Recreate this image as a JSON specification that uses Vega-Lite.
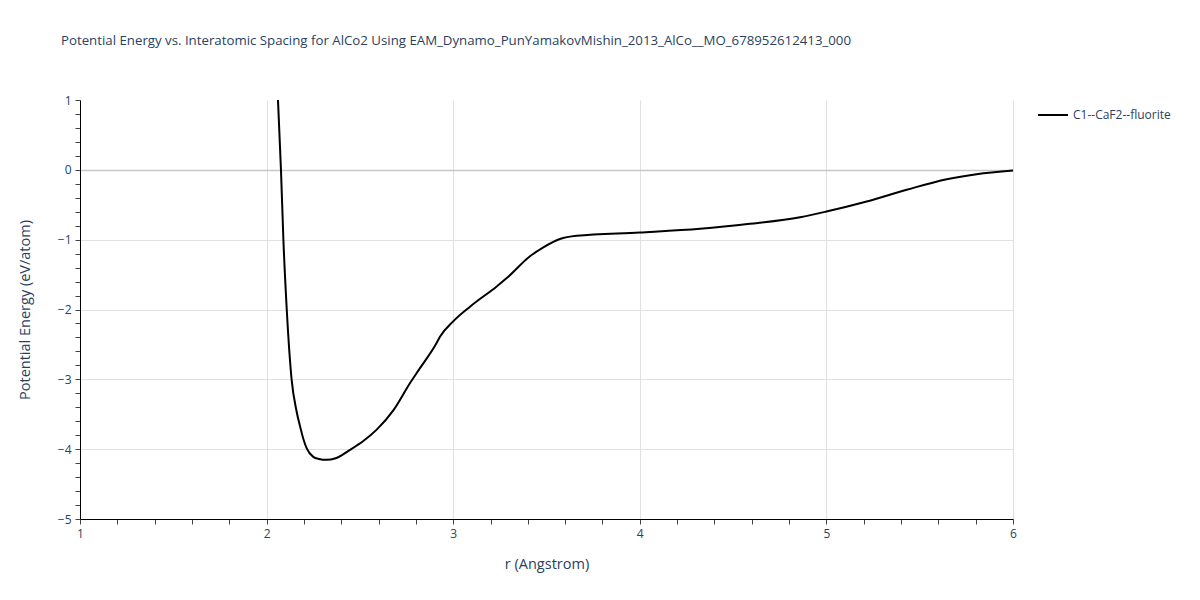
{
  "$schema": "https://vega.github.io/schema/vega-lite/v6.json",
  "width": 933,
  "height": 419,
  "autosize": {"type": "none"},
  "padding": {"left": 80, "top": 100, "right": 187, "bottom": 81},
  "background": "white",
  "config": {
    "font": "Open Sans",
    "view": {"stroke": null},
    "axis": {"labelFont": "Open Sans", "titleFont": "Open Sans"}
  },
  "title": {
    "text": "Potential Energy vs. Interatomic Spacing for AlCo2 Using EAM_Dynamo_PunYamakovMishin_2013_AlCo__MO_678952612413_000",
    "anchor": "start",
    "frame": "group",
    "dx": -19,
    "offset": 46,
    "fontSize": 13.25,
    "fontWeight": "normal",
    "color": "#2a3f5f",
    "font": "Open Sans"
  },
  "data": {
    "values": [
      {"r": 2.061, "E": 1.0, "s": "C1--CaF2--fluorite"},
      {"r": 2.077, "E": 0.0, "s": "C1--CaF2--fluorite"},
      {"r": 2.09, "E": -1.0, "s": "C1--CaF2--fluorite"},
      {"r": 2.108, "E": -2.0, "s": "C1--CaF2--fluorite"},
      {"r": 2.134, "E": -3.0, "s": "C1--CaF2--fluorite"},
      {"r": 2.16, "E": -3.45, "s": "C1--CaF2--fluorite"},
      {"r": 2.179, "E": -3.67, "s": "C1--CaF2--fluorite"},
      {"r": 2.2, "E": -3.88, "s": "C1--CaF2--fluorite"},
      {"r": 2.215, "E": -3.99, "s": "C1--CaF2--fluorite"},
      {"r": 2.25, "E": -4.11, "s": "C1--CaF2--fluorite"},
      {"r": 2.28, "E": -4.14, "s": "C1--CaF2--fluorite"},
      {"r": 2.322, "E": -4.153, "s": "C1--CaF2--fluorite"},
      {"r": 2.37, "E": -4.13, "s": "C1--CaF2--fluorite"},
      {"r": 2.447, "E": -4.01, "s": "C1--CaF2--fluorite"},
      {"r": 2.52, "E": -3.88, "s": "C1--CaF2--fluorite"},
      {"r": 2.59, "E": -3.72, "s": "C1--CaF2--fluorite"},
      {"r": 2.68, "E": -3.44, "s": "C1--CaF2--fluorite"},
      {"r": 2.768, "E": -3.057, "s": "C1--CaF2--fluorite"},
      {"r": 2.822, "E": -2.84, "s": "C1--CaF2--fluorite"},
      {"r": 2.911, "E": -2.48, "s": "C1--CaF2--fluorite"},
      {"r": 2.929, "E": -2.39, "s": "C1--CaF2--fluorite"},
      {"r": 3.0, "E": -2.17, "s": "C1--CaF2--fluorite"},
      {"r": 3.09, "E": -1.96, "s": "C1--CaF2--fluorite"},
      {"r": 3.233, "E": -1.67, "s": "C1--CaF2--fluorite"},
      {"r": 3.287, "E": -1.55, "s": "C1--CaF2--fluorite"},
      {"r": 3.41, "E": -1.24, "s": "C1--CaF2--fluorite"},
      {"r": 3.483, "E": -1.11, "s": "C1--CaF2--fluorite"},
      {"r": 3.572, "E": -0.99, "s": "C1--CaF2--fluorite"},
      {"r": 3.662, "E": -0.945, "s": "C1--CaF2--fluorite"},
      {"r": 4.0, "E": -0.898, "s": "C1--CaF2--fluorite"},
      {"r": 4.323, "E": -0.845, "s": "C1--CaF2--fluorite"},
      {"r": 4.59, "E": -0.773, "s": "C1--CaF2--fluorite"},
      {"r": 4.859, "E": -0.678, "s": "C1--CaF2--fluorite"},
      {"r": 5.0, "E": -0.597, "s": "C1--CaF2--fluorite"},
      {"r": 5.216, "E": -0.454, "s": "C1--CaF2--fluorite"},
      {"r": 5.43, "E": -0.286, "s": "C1--CaF2--fluorite"},
      {"r": 5.645, "E": -0.134, "s": "C1--CaF2--fluorite"},
      {"r": 5.805, "E": -0.062, "s": "C1--CaF2--fluorite"},
      {"r": 6.0, "E": -0.01, "s": "C1--CaF2--fluorite"}
    ]
  },
  "mark": {"type": "line", "strokeWidth": 2, "clip": true, "interpolate": "monotone"},
  "encoding": {
    "x": {
      "field": "r",
      "type": "quantitative",
      "scale": {"domain": [1, 6], "nice": false, "zero": false},
      "axis": {
        "title": "r (Angstrom)",
        "titleFontSize": 14.5,
        "titleFontWeight": "normal",
        "titleColor": "#2a3f5f",
        "titlePadding": 18,
        "values": [1, 1.2, 1.4, 1.6, 1.8, 2, 2.2, 2.4, 2.6, 2.8, 3, 3.2, 3.4, 3.6, 3.8, 4, 4.2, 4.4, 4.6, 4.8, 5, 5.2, 5.4, 5.6, 5.8, 6],
        "labelExpr": "round(datum.value) === datum.value ? format(datum.value, 'd') : ''",
        "labelOverlap": false,
        "labelFontSize": 12,
        "labelColor": "#2a3f5f",
        "labelPadding": 4,
        "labelFlush": false,
        "tickColor": "#444",
        "tickSize": 5,
        "domainColor": "black",
        "domainWidth": 1,
        "grid": true,
        "gridColor": "#e1e1e1",
        "gridOpacity": {"condition": {"test": "round(datum.value) !== datum.value || datum.value === 1", "value": 0}, "value": 1}
      }
    },
    "y": {
      "field": "E",
      "type": "quantitative",
      "scale": {"domain": [-5, 1], "nice": false, "zero": false},
      "axis": {
        "title": "Potential Energy (eV/atom)",
        "titleFontSize": 14.5,
        "titleFontWeight": "normal",
        "titleColor": "#2a3f5f",
        "titlePadding": 25,
        "values": [-5, -4.8, -4.6, -4.4, -4.2, -4, -3.8, -3.6, -3.4, -3.2, -3, -2.8, -2.6, -2.4, -2.2, -2, -1.8, -1.6, -1.4, -1.2, -1, -0.8, -0.6, -0.4, -0.2, 0, 0.2, 0.4, 0.6, 0.8, 1],
        "labelExpr": "round(datum.value) === datum.value ? format(datum.value, 'd') : ''",
        "labelOverlap": false,
        "labelFontSize": 12,
        "labelColor": "#2a3f5f",
        "labelPadding": 4,
        "labelFlush": false,
        "tickColor": "#444",
        "tickSize": 5,
        "domainColor": "black",
        "domainWidth": 1,
        "grid": true,
        "gridColor": {"condition": {"test": "datum.value === 0", "value": "#c8c8c8"}, "value": "#e1e1e1"},
        "gridWidth": {"condition": {"test": "datum.value === 0", "value": 1.5}, "value": 1},
        "gridOpacity": {"condition": {"test": "round(datum.value) !== datum.value || datum.value === 1 || datum.value === -5", "value": 0}, "value": 1}
      }
    },
    "color": {
      "field": "s",
      "type": "nominal",
      "scale": {"range": ["black"]},
      "legend": {
        "title": null,
        "orient": "none",
        "legendX": 957,
        "legendY": -1,
        "symbolType": "stroke",
        "symbolStrokeWidth": 2,
        "symbolSize": 900,
        "labelFontSize": 12,
        "labelColor": "#2a3f5f",
        "labelFont": "Open Sans"
      }
    }
  }
}
